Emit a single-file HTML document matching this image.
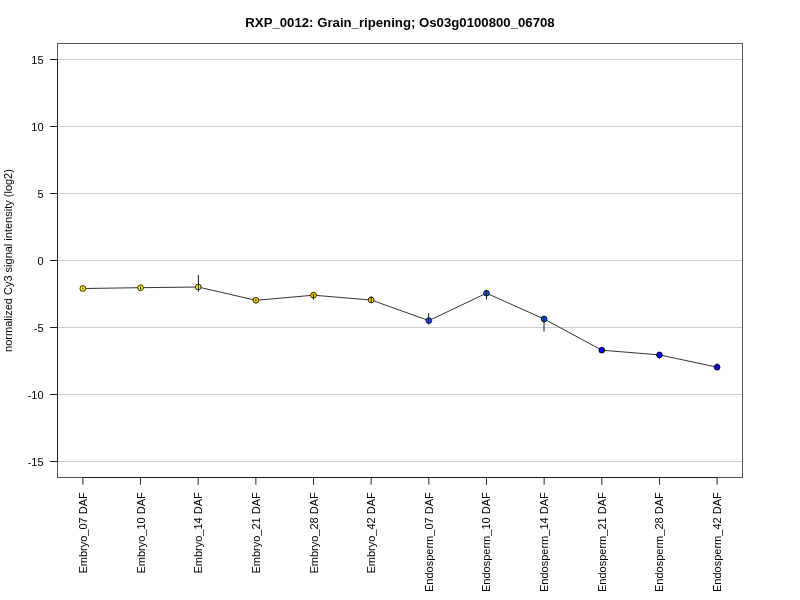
<!DOCTYPE html>
<html><head><meta charset="utf-8"><title>RXP_0012</title>
<style>
html,body{margin:0;padding:0;background:#fff;}
body{width:800px;height:600px;overflow:hidden;}
svg{display:block;will-change:transform;}
text{font-family:"Liberation Sans",sans-serif;fill:#000;}
.ax{font-size:11px;}
.tt{font-size:13.2px;font-weight:bold;}
</style></head><body>
<svg width="800" height="600" viewBox="0 0 800 600">
<rect x="0" y="0" width="800" height="600" fill="#ffffff"/>
<text class="tt" x="400" y="26.6" text-anchor="middle">RXP_0012: Grain_ripening; Os03g0100800_06708</text>
<line x1="57.5" y1="59.5" x2="742.5" y2="59.5" stroke="#cecece" stroke-width="1"/>
<line x1="57.5" y1="126.5" x2="742.5" y2="126.5" stroke="#cecece" stroke-width="1"/>
<line x1="57.5" y1="193.5" x2="742.5" y2="193.5" stroke="#cecece" stroke-width="1"/>
<line x1="57.5" y1="260.5" x2="742.5" y2="260.5" stroke="#cecece" stroke-width="1"/>
<line x1="57.5" y1="327.5" x2="742.5" y2="327.5" stroke="#cecece" stroke-width="1"/>
<line x1="57.5" y1="394.5" x2="742.5" y2="394.5" stroke="#cecece" stroke-width="1"/>
<line x1="57.5" y1="461.5" x2="742.5" y2="461.5" stroke="#cecece" stroke-width="1"/>
<rect x="57.5" y="43.5" width="685.0" height="434.0" fill="none" stroke="#555555" stroke-width="1"/>
<line x1="57.5" y1="59.5" x2="57.5" y2="461.5" stroke="#1a1a1a" stroke-width="1"/>
<line x1="50" y1="59.5" x2="57.5" y2="59.5" stroke="#222" stroke-width="1"/>
<text class="ax" x="43.6" y="63.5" text-anchor="end">15</text>
<line x1="50" y1="126.5" x2="57.5" y2="126.5" stroke="#222" stroke-width="1"/>
<text class="ax" x="43.6" y="130.5" text-anchor="end">10</text>
<line x1="50" y1="193.5" x2="57.5" y2="193.5" stroke="#222" stroke-width="1"/>
<text class="ax" x="43.6" y="197.5" text-anchor="end">5</text>
<line x1="50" y1="260.5" x2="57.5" y2="260.5" stroke="#222" stroke-width="1"/>
<text class="ax" x="43.6" y="264.5" text-anchor="end">0</text>
<line x1="50" y1="327.5" x2="57.5" y2="327.5" stroke="#222" stroke-width="1"/>
<text class="ax" x="43.6" y="331.5" text-anchor="end">-5</text>
<line x1="50" y1="394.5" x2="57.5" y2="394.5" stroke="#222" stroke-width="1"/>
<text class="ax" x="43.6" y="398.5" text-anchor="end">-10</text>
<line x1="50" y1="461.5" x2="57.5" y2="461.5" stroke="#222" stroke-width="1"/>
<text class="ax" x="43.6" y="465.5" text-anchor="end">-15</text>
<line x1="82.87" y1="477.5" x2="717.13" y2="477.5" stroke="#1a1a1a" stroke-width="1"/>
<line x1="82.87" y1="477.5" x2="82.87" y2="484.7" stroke="#222" stroke-width="1"/>
<text class="ax" transform="translate(86.87,492.3) rotate(-90)" text-anchor="end">Embryo_07 DAF</text>
<line x1="140.53" y1="477.5" x2="140.53" y2="484.7" stroke="#222" stroke-width="1"/>
<text class="ax" transform="translate(144.53,492.3) rotate(-90)" text-anchor="end">Embryo_10 DAF</text>
<line x1="198.19" y1="477.5" x2="198.19" y2="484.7" stroke="#222" stroke-width="1"/>
<text class="ax" transform="translate(202.19,492.3) rotate(-90)" text-anchor="end">Embryo_14 DAF</text>
<line x1="255.85" y1="477.5" x2="255.85" y2="484.7" stroke="#222" stroke-width="1"/>
<text class="ax" transform="translate(259.85,492.3) rotate(-90)" text-anchor="end">Embryo_21 DAF</text>
<line x1="313.51" y1="477.5" x2="313.51" y2="484.7" stroke="#222" stroke-width="1"/>
<text class="ax" transform="translate(317.51,492.3) rotate(-90)" text-anchor="end">Embryo_28 DAF</text>
<line x1="371.17" y1="477.5" x2="371.17" y2="484.7" stroke="#222" stroke-width="1"/>
<text class="ax" transform="translate(375.17,492.3) rotate(-90)" text-anchor="end">Embryo_42 DAF</text>
<line x1="428.83" y1="477.5" x2="428.83" y2="484.7" stroke="#222" stroke-width="1"/>
<text class="ax" transform="translate(432.83,492.3) rotate(-90)" text-anchor="end">Endosperm_07 DAF</text>
<line x1="486.49" y1="477.5" x2="486.49" y2="484.7" stroke="#222" stroke-width="1"/>
<text class="ax" transform="translate(490.49,492.3) rotate(-90)" text-anchor="end">Endosperm_10 DAF</text>
<line x1="544.15" y1="477.5" x2="544.15" y2="484.7" stroke="#222" stroke-width="1"/>
<text class="ax" transform="translate(548.15,492.3) rotate(-90)" text-anchor="end">Endosperm_14 DAF</text>
<line x1="601.81" y1="477.5" x2="601.81" y2="484.7" stroke="#222" stroke-width="1"/>
<text class="ax" transform="translate(605.81,492.3) rotate(-90)" text-anchor="end">Endosperm_21 DAF</text>
<line x1="659.47" y1="477.5" x2="659.47" y2="484.7" stroke="#222" stroke-width="1"/>
<text class="ax" transform="translate(663.47,492.3) rotate(-90)" text-anchor="end">Endosperm_28 DAF</text>
<line x1="717.13" y1="477.5" x2="717.13" y2="484.7" stroke="#222" stroke-width="1"/>
<text class="ax" transform="translate(721.13,492.3) rotate(-90)" text-anchor="end">Endosperm_42 DAF</text>
<text class="ax" transform="translate(12.0,260.5) rotate(-90)" text-anchor="middle">normalized Cy3 signal intensity (log2)</text>
<polyline points="82.87,288.5 140.53,287.7 198.19,287.0 255.85,300.3 313.51,295.2 371.17,300.0 428.83,320.6 486.49,293.2 544.15,319.0 601.81,350.2 659.47,354.9 717.13,367.2" fill="none" stroke="#333" stroke-width="1"/>
<circle cx="82.87" cy="288.5" r="2.9" fill="#FFF000" stroke="#000" stroke-width="0.8"/>
<circle cx="140.53" cy="287.7" r="2.9" fill="#FFF000" stroke="#000" stroke-width="0.8"/>
<circle cx="198.19" cy="287.0" r="2.9" fill="#FFF000" stroke="#000" stroke-width="0.8"/>
<circle cx="255.85" cy="300.3" r="2.9" fill="#FFD000" stroke="#000" stroke-width="0.8"/>
<circle cx="313.51" cy="295.2" r="2.9" fill="#FFD000" stroke="#000" stroke-width="0.8"/>
<circle cx="371.17" cy="300.0" r="2.9" fill="#FFD000" stroke="#000" stroke-width="0.8"/>
<circle cx="428.83" cy="320.6" r="2.9" fill="#0A55F8" stroke="#000" stroke-width="0.8"/>
<circle cx="486.49" cy="293.2" r="2.9" fill="#0A55F8" stroke="#000" stroke-width="0.8"/>
<circle cx="544.15" cy="319.0" r="2.9" fill="#0A55F8" stroke="#000" stroke-width="0.8"/>
<circle cx="601.81" cy="350.2" r="2.9" fill="#0000F0" stroke="#000" stroke-width="0.8"/>
<circle cx="659.47" cy="354.9" r="2.9" fill="#0000F0" stroke="#000" stroke-width="0.8"/>
<circle cx="717.13" cy="367.2" r="2.9" fill="#0000F0" stroke="#000" stroke-width="0.8"/>
<line x1="82.90" y1="287.6" x2="82.90" y2="289.4" stroke="#1a1a1a" stroke-width="1"/>
<line x1="140.50" y1="286.4" x2="140.50" y2="289.4" stroke="#1a1a1a" stroke-width="1"/>
<line x1="198.40" y1="275.0" x2="198.40" y2="291.7" stroke="#1a1a1a" stroke-width="1"/>
<line x1="255.85" y1="299.2" x2="255.85" y2="301.4" stroke="#1a1a1a" stroke-width="1"/>
<line x1="313.40" y1="293.8" x2="313.40" y2="299.8" stroke="#1a1a1a" stroke-width="1"/>
<line x1="371.20" y1="296.2" x2="371.20" y2="302.6" stroke="#1a1a1a" stroke-width="1"/>
<line x1="428.60" y1="313.3" x2="428.60" y2="324.6" stroke="#1a1a1a" stroke-width="1"/>
<line x1="486.50" y1="290.2" x2="486.50" y2="299.6" stroke="#1a1a1a" stroke-width="1"/>
<line x1="544.00" y1="316.0" x2="544.00" y2="331.6" stroke="#1a1a1a" stroke-width="1"/>
<line x1="601.50" y1="348.8" x2="601.50" y2="351.9" stroke="#1a1a1a" stroke-width="1"/>
<line x1="659.40" y1="352.4" x2="659.40" y2="358.8" stroke="#1a1a1a" stroke-width="1"/>
<line x1="717.10" y1="363.4" x2="717.10" y2="368.8" stroke="#1a1a1a" stroke-width="1"/>
</svg></body></html>
